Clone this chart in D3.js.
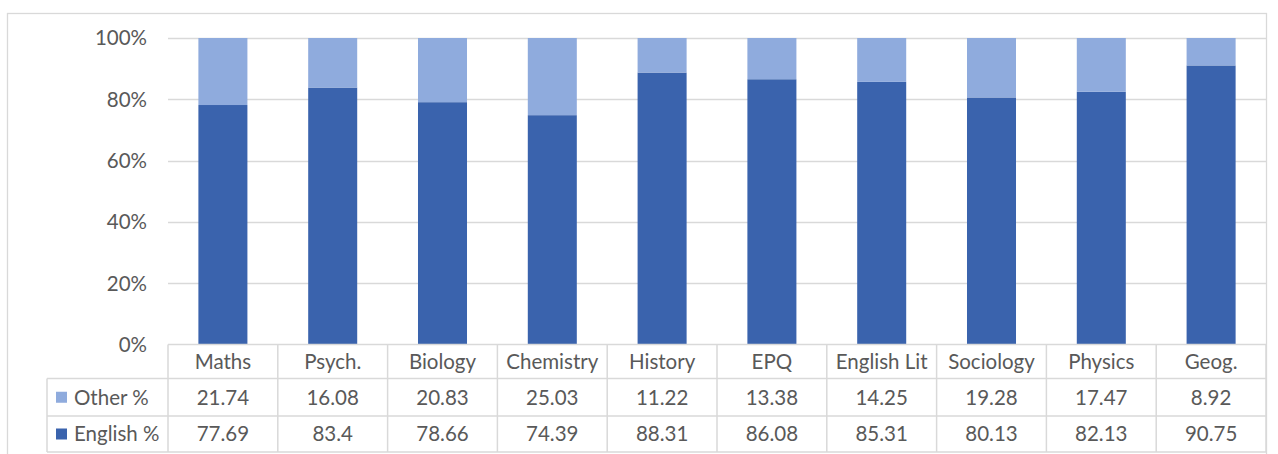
<!DOCTYPE html>
<html>
<head>
<meta charset="utf-8">
<script src="https://cdn.jsdelivr.net/npm/d3@7"></script>
<style>
  body { margin: 0; background: #fff; }
  svg { display: block; font-family: Lato, "Open Sans", sans-serif; }
</style>
</head>
<body>
<svg width="1278" height="454"></svg>
<script>
// data
const subjects = ["Maths", "Psych.", "Biology", "Chemistry", "History", "EPQ", "English Lit", "Sociology", "Physics", "Geog."];
const otherPct = [21.74, 16.08, 20.83, 25.03, 11.22, 13.38, 14.25, 19.28, 17.47, 8.92];
const englishPct = [77.69, 83.4, 78.66, 74.39, 88.31, 86.08, 85.31, 80.13, 82.13, 90.75];
const yTicks = [0, 0.2, 0.4, 0.6, 0.8, 1];

const series = [
  { name: "English %", values: englishPct, color: "#3A63AD" },
  { name: "Other %", values: otherPct, color: "#8FABDD" }
];
// the table lists Other first
const tableRows = [series[1], series[0]];

const svg = d3.select("svg");
const textColor = "#595959";
const lineColor = "#D9D9D9";
const fontSize = 20.5;

// frame around the chart
svg.append("rect")
  .attr("x", 7.5).attr("y", 13.5)
  .attr("width", 1259).attr("height", 460)
  .attr("fill", "none").attr("stroke", lineColor).attr("stroke-width", 1.3);

const plotLeft = 168, plotRight = 1266;
const x = d3.scaleBand().domain(subjects).range([plotLeft, plotRight]).padding(0);
const y = d3.scaleLinear().domain([0, 1]).range([344.5, 38]);

// gridlines
svg.append("g").selectAll("line")
  .data(yTicks.filter(d => d > 0))
  .enter().append("line")
  .attr("x1", plotLeft).attr("x2", plotRight)
  .attr("y1", d => Math.round(y(d)) + 0.5).attr("y2", d => Math.round(y(d)) + 0.5)
  .attr("stroke", lineColor).attr("stroke-width", 1.5);

// y axis labels
svg.append("g").selectAll("text")
  .data(yTicks)
  .enter().append("text")
  .attr("x", 147)
  .attr("y", d => y(d))
  .attr("dy", "0.36em")
  .attr("text-anchor", "end")
  .attr("fill", textColor)
  .attr("font-size", fontSize)
  .text(d3.format(".0%"));

// 100% stacked bars
const rows = subjects.map((s, i) => {
  const total = englishPct[i] + otherPct[i];
  return { subject: s, english: englishPct[i] / total, other: otherPct[i] / total };
});
const stack = d3.stack().keys(["english", "other"]);
const stacked = stack(rows);
const barW = x.bandwidth() / 2.24;

svg.append("g").selectAll("g")
  .data(stacked)
  .enter().append("g")
  .attr("fill", (d, i) => series[i].color)
  .selectAll("rect")
  .data(d => d)
  .enter().append("rect")
  .attr("x", d => x(d.data.subject) + (x.bandwidth() - barW) / 2)
  .attr("width", barW)
  .attr("y", d => y(d[1]))
  .attr("height", d => y(d[0]) - y(d[1]));

// data table
const tableLeft = 47;
const rowLines = [344.5, 378.5, 416, 452];
const table = svg.append("g").attr("stroke", lineColor).attr("stroke-width", 1.5);
table.append("line").attr("x1", plotLeft).attr("x2", plotRight).attr("y1", rowLines[0]).attr("y2", rowLines[0]);
rowLines.slice(1).forEach(ly => {
  table.append("line").attr("x1", tableLeft).attr("x2", plotRight).attr("y1", ly).attr("y2", ly);
});
table.append("line").attr("x1", tableLeft).attr("x2", tableLeft).attr("y1", rowLines[1]).attr("y2", rowLines[3]);
subjects.forEach(s => {
  table.append("line").attr("x1", x(s)).attr("x2", x(s)).attr("y1", rowLines[0]).attr("y2", rowLines[3]);
});
table.append("line").attr("x1", plotRight).attr("x2", plotRight).attr("y1", rowLines[0]).attr("y2", rowLines[3]);

// category labels
svg.append("g").selectAll("text")
  .data(subjects)
  .enter().append("text")
  .attr("x", d => x(d) + x.bandwidth() / 2)
  .attr("y", (rowLines[0] + rowLines[1]) / 2)
  .attr("dy", "0.36em")
  .attr("text-anchor", "middle")
  .attr("fill", textColor)
  .attr("font-size", fontSize)
  .text(d => d);

// value rows with legend keys
tableRows.forEach((row, r) => {
  const cy = (rowLines[r + 1] + rowLines[r + 2]) / 2;
  const g = svg.append("g");
  g.append("rect")
    .attr("x", 56).attr("y", cy - 5.5)
    .attr("width", 11).attr("height", 11)
    .attr("fill", row.color);
  g.append("text")
    .attr("x", 74).attr("y", cy).attr("dy", "0.36em")
    .attr("fill", textColor).attr("font-size", fontSize)
    .text(row.name);
  g.selectAll("text.val")
    .data(row.values)
    .enter().append("text")
    .attr("class", "val")
    .attr("x", (d, i) => x(subjects[i]) + x.bandwidth() / 2)
    .attr("y", cy).attr("dy", "0.36em")
    .attr("text-anchor", "middle")
    .attr("fill", textColor).attr("font-size", fontSize)
    .text(d => d);
});
</script>
</body>
</html>
